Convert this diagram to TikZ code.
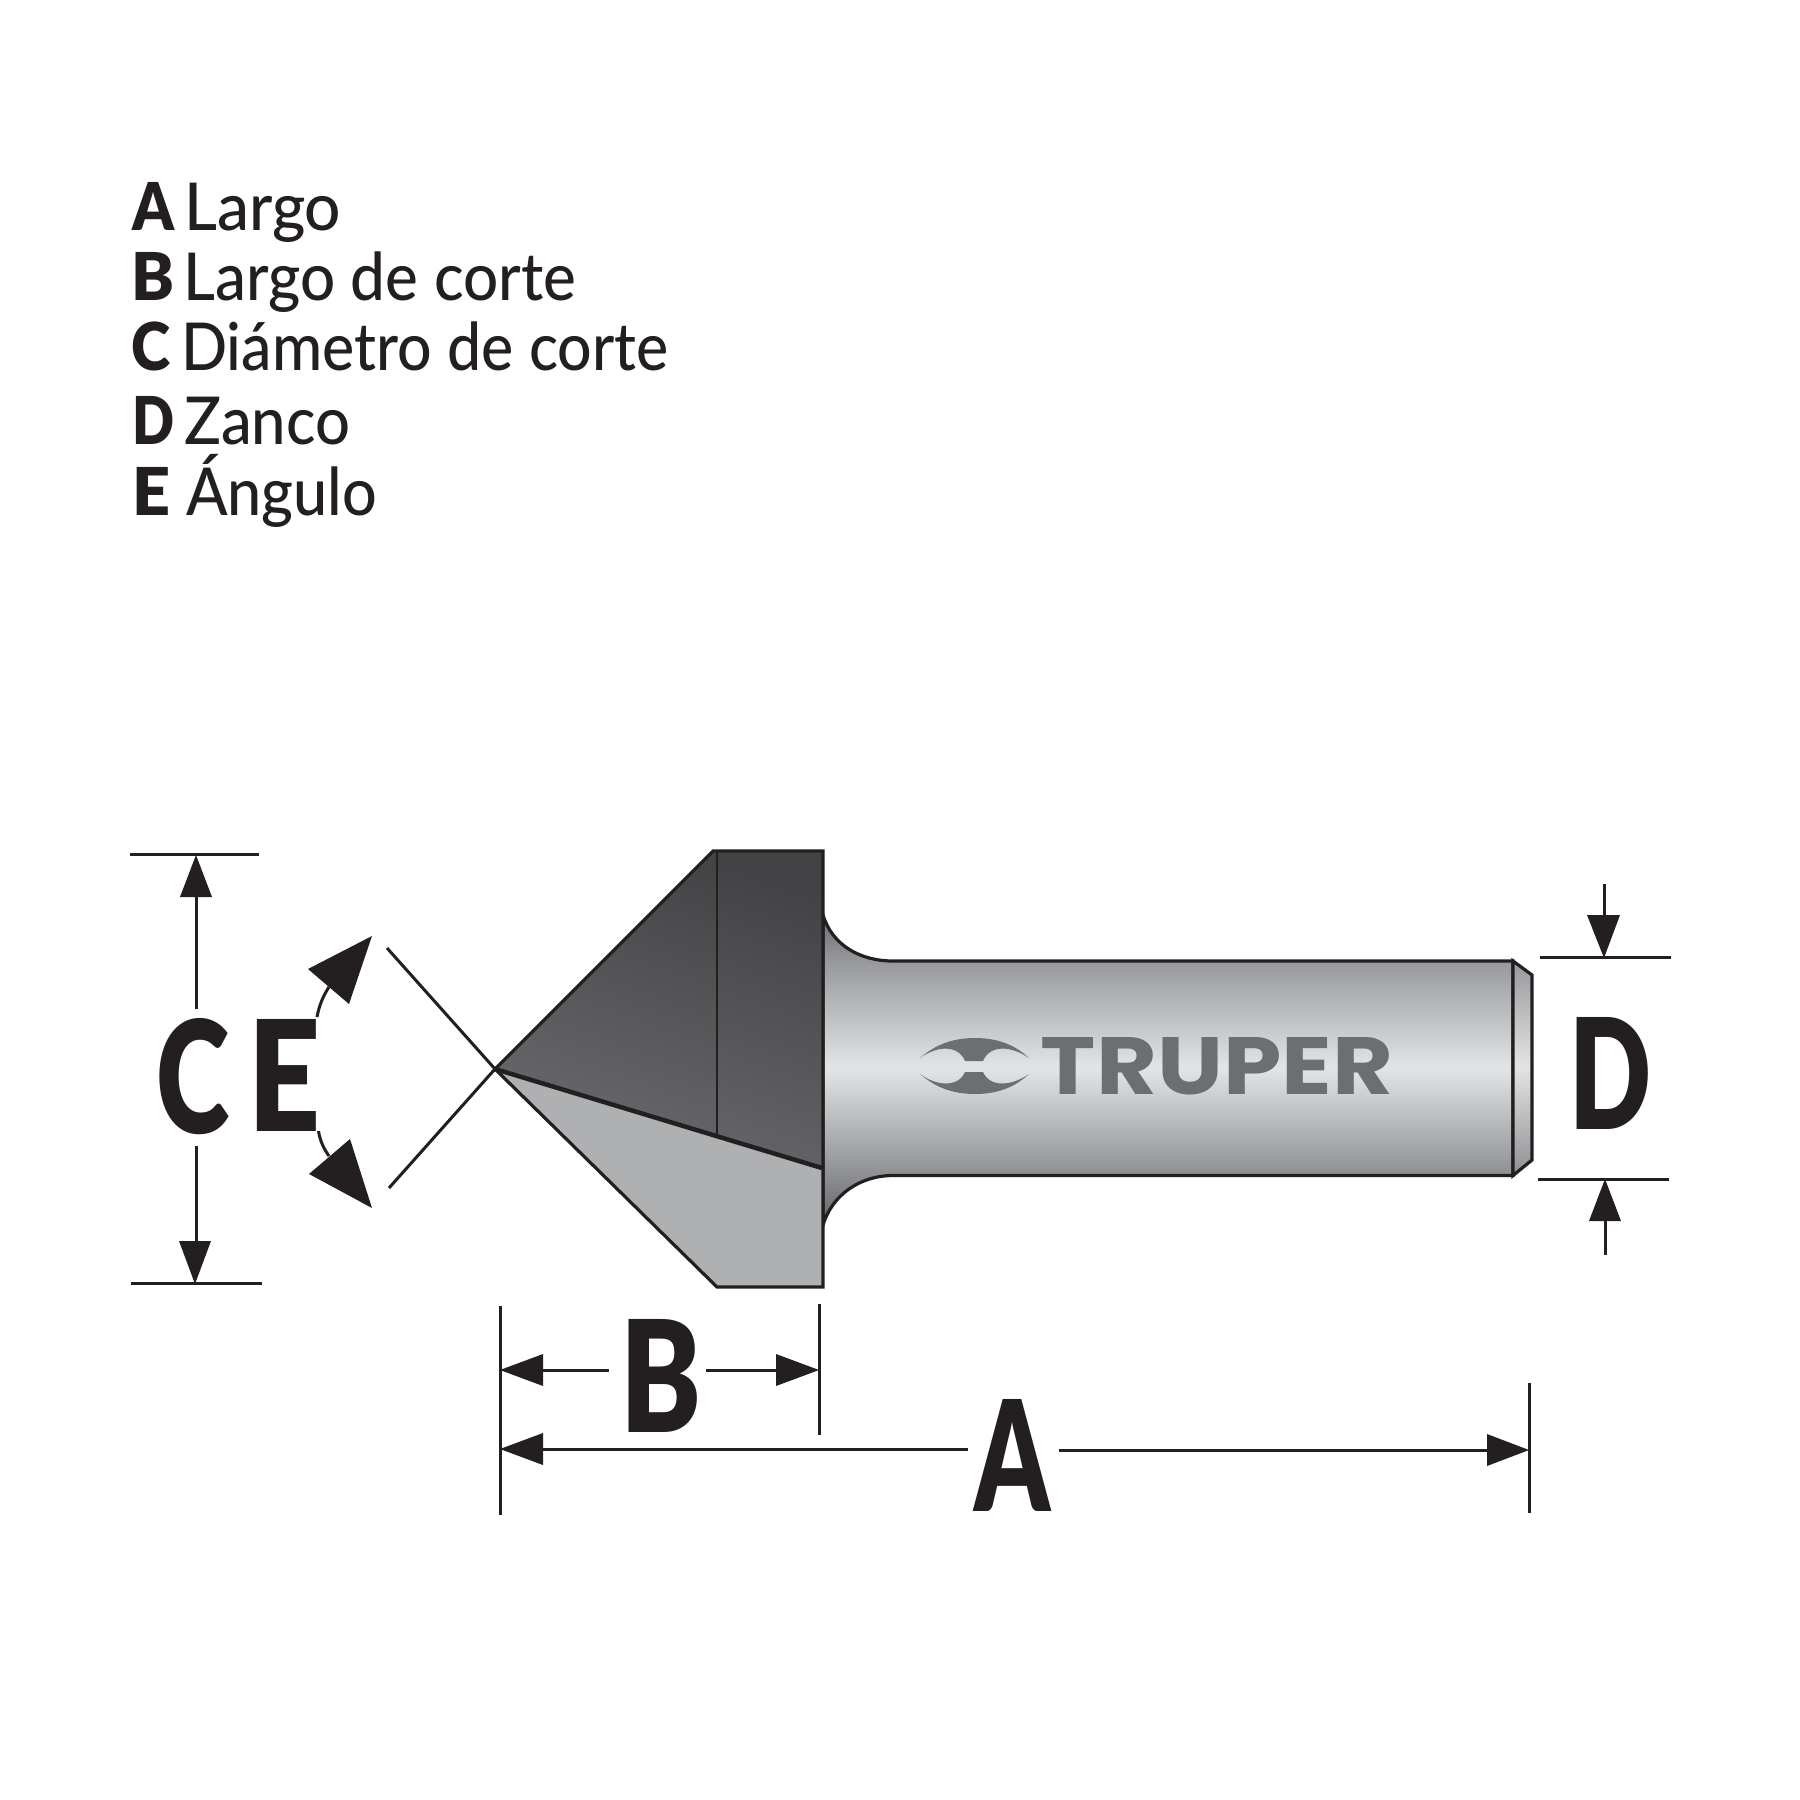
\documentclass[tikz,border=0pt]{standalone}
\usepackage{graphicx}
\usepackage{fontspec}
\setmainfont{Lato Medium}
\newfontfamily\heavyfont{Lato Black}
\newfontfamily\brandfont{Poppins Bold}
\definecolor{ink}{HTML}{231F20}
\definecolor{logo}{HTML}{6D6E71}
\definecolor{sA}{HTML}{636467}
\definecolor{sB}{HTML}{8E8F92}
\definecolor{sC}{HTML}{E3E4E5}
\definecolor{sD}{HTML}{97989B}
\definecolor{sE}{HTML}{6E6F72}
\definecolor{faceLight}{HTML}{AEB0B2}
\definecolor{faceDark}{HTML}{434345}
\definecolor{faceMid}{HTML}{696A6D}
\pgfdeclareverticalshading{shankshade}{100bp}{color(0bp)=(sA); color(25bp)=(sA); color(33.06bp)=(sB); color(50.3bp)=(sC); color(67.6bp)=(sD); color(75bp)=(sE); color(100bp)=(sE)}
\pgfdeclareverticalshading{tipshade}{100bp}{color(0bp)=(sB); color(25bp)=(sB); color(50.3bp)=(sC); color(75bp)=(sD); color(100bp)=(sD)}
\newcommand{\biglet}[3]{\resizebox{#1pt}{#2pt}{\heavyfont #3}}
\newcommand{\fitw}[2]{\resizebox{#1pt}{\height}{#2}}
\tikzset{
  outline/.style={draw=ink,line width=3.2pt,line join=miter},
  dimline/.style={draw=ink,line width=3pt},
  head/.style={fill=ink,draw=none},
  bigtext/.style={text=ink,inner sep=0pt,anchor=center},
  legend/.style={text=ink,inner sep=0pt,anchor=base west,font=\fontsize{66}{66}\selectfont},
  legendkey/.style={legend,font=\fontsize{66}{66}\selectfont\heavyfont},
}
\begin{document}
\begin{tikzpicture}[x=1pt,y=-1pt]
\useasboundingbox (0,0) rectangle (1800,1800);
\fill[white] (0,0) rectangle (1800,1800);

% legend
\node[legendkey] (kA) at (132,230) {\fitw{42}{A}};
\node[legend] (tA) at (184,230) {\fitw{157}{Largo}};
\node[legend] (tB) at (183,300) {\fitw{393}{Largo de corte}};
\node[legendkey] (kB) at (131,300) {\fitw{43}{B}};
\node[legendkey] (kC) at (131,370) {\fitw{39}{C}};
\node[legend] (tC) at (181,370) {\fitw{487}{Diámetro de corte}};
\node[legendkey] (kD) at (132,444) {\fitw{42}{D}};
\node[legend] (tD) at (184,444) {\fitw{166}{Zanco}};
\node[legendkey] (kE) at (132,515) {\fitw{38}{E}};
\node[legend] (tE) at (186,515) {\fitw{191}{Ángulo}};

% shank
\path[shading=shankshade] (823,915) .. controls (832,945) and (860,961) .. (893,961)
  -- (1513,961) -- (1513,1175.5) -- (893,1175.5)
  .. controls (860,1175.5) and (832,1195) .. (823,1225) -- cycle;
\path[outline] (823,915) .. controls (832,945) and (860,961) .. (893,961)
  -- (1513,961) -- (1513,1175.5) -- (893,1175.5)
  .. controls (860,1175.5) and (832,1195) .. (823,1225) -- cycle;
% chamfer
\path[shading=tipshade] (1513,961) -- (1532,975) -- (1532,1160) -- (1513,1175.5) -- cycle;
\path[outline] (1513,961) -- (1532,975) -- (1532,1160) -- (1513,1175.5) -- cycle;

% logo
\path[fill=logo] (920,1058) .. controls (935,1045) and (952,1038) .. (975,1038)
  .. controls (998,1038) and (1015,1045) .. (1029,1058)
  .. controls (1012,1046) and (990,1044) .. (983,1061) -- (965,1061)
  .. controls (958,1044) and (936,1046) .. (920,1058) -- cycle;
\path[fill=logo] (920,1074) .. controls (935,1087) and (952,1094) .. (975,1094)
  .. controls (998,1094) and (1015,1087) .. (1029,1074)
  .. controls (1012,1086) and (990,1088) .. (983,1072) -- (965,1072)
  .. controls (958,1088) and (936,1086) .. (920,1074) -- cycle;
\node[inner sep=0pt,text=logo,anchor=center] (brand) at (1217,1066.5)
  {\resizebox{352pt}{57pt}{\brandfont TRUPER}};

% head: lower light face
\path[fill=faceLight] (495,1069) -- (822,1167) -- (822,1287) -- (717,1287) -- cycle;
% head: upper dark face
\path[left color=faceDark,right color=faceMid,shading angle=-20] (495,1069) -- (713,851) -- (823,851) -- (823,1167) -- cycle;
\path[outline] (495,1069) -- (713,851) -- (823,851) -- (823,1287) -- (717,1287) -- cycle;
\path[draw=ink,line width=4.5pt] (495,1069) -- (822,1168);
\path[draw=ink,line width=2.6pt] (717,851) -- (717,1135);

% dimension C
\path[dimline] (130,854) -- (259,854);
\path[dimline] (131,1283.5) -- (262,1283.5);
\path[dimline] (196,895) -- (196,1009);
\path[dimline] (196,1146) -- (196,1243);
\path[head] (196,855) -- (212,897) -- (180,897) -- cycle;
\path[head] (195,1284) -- (211,1241) -- (179,1241) -- cycle;
\node[bigtext] (letC) at (193,1076.5) {\biglet{73}{115}{C}};

% dimension E
\node[bigtext] (letE) at (284.5,1075) {\biglet{72}{112}{E}};
\path[dimline] (387,948) -- (495,1069) -- (389,1188);
\path[head] (372,936) -- (349,1004) -- (308,969) -- cycle;
\path[head] (372,1208) -- (350,1139) -- (309,1174) -- cycle;
\path[dimline] (317,1017) .. controls (319,1006) and (323,996) .. (329,987);
\path[dimline] (318.5,1131) .. controls (320,1141) and (324,1149) .. (329,1156);

% dimension D
\path[dimline] (1540,957) -- (1671,957);
\path[dimline] (1538,1179) -- (1669,1179);
\path[dimline] (1604,884) -- (1604,920);
\path[dimline] (1605,1216) -- (1605,1255);
\path[head] (1604,958) -- (1587,915) -- (1620,915) -- cycle;
\path[head] (1605,1179) -- (1621,1221) -- (1589,1221) -- cycle;
\node[bigtext] (letD) at (1610.5,1073) {\biglet{82}{112}{D}};

% dimension B
\path[dimline] (500,1306) -- (500,1515);
\path[dimline] (819,1304) -- (819,1435);
\path[dimline] (538,1370) -- (609,1370);
\path[dimline] (706,1370) -- (781,1370);
\path[head] (500,1370) -- (543,1354) -- (543,1386) -- cycle;
\path[head] (819,1370) -- (776,1354) -- (776,1386) -- cycle;
\node[bigtext] (letB) at (661.5,1375.5) {\biglet{81}{113}{B}};

% dimension A
\path[dimline] (1529,1383) -- (1529,1513);
\path[dimline] (538,1449) -- (968,1449);
\path[dimline] (1059,1450) -- (1492,1450);
\path[head] (500,1449) -- (543,1433) -- (543,1465) -- cycle;
\path[head] (1529,1450) -- (1487,1434) -- (1487,1466) -- cycle;
\node[bigtext] (letA) at (1012,1455) {\biglet{76}{112}{A}};
\end{tikzpicture}
\end{document}
